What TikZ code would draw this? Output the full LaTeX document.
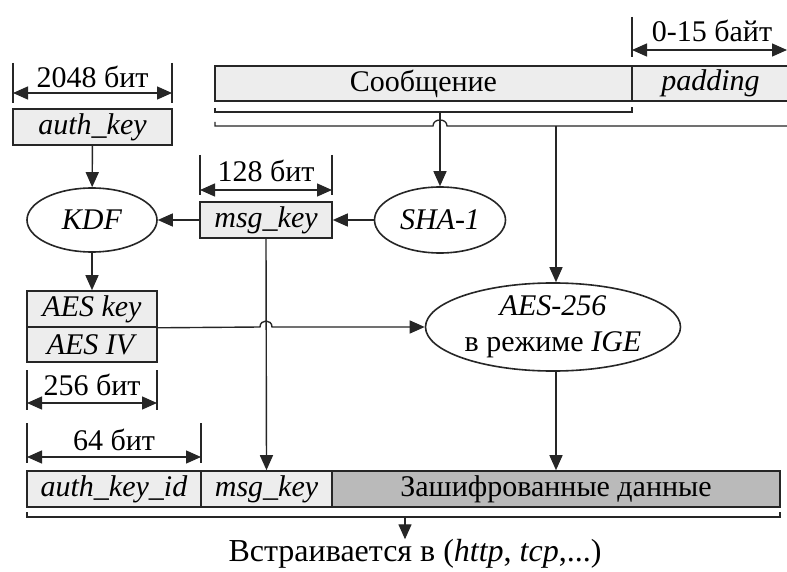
\documentclass[tikz,border=0pt]{standalone}
\usepackage{fontspec}
\setmainfont{Liberation Serif}
\usetikzlibrary{arrows.meta,shapes.geometric}

\begin{document}
\begin{tikzpicture}[x=1pt,y=-1pt,
  font=\fontsize{30}{36}\selectfont,
  ln/.style={draw=black!85, line width=1.6pt},
  field/.style={ln, fill=black!7, rectangle, inner sep=0pt},
  darkfield/.style={ln, fill=black!27, rectangle, inner sep=0pt},
  oval/.style={ln, ellipse, fill=white, inner sep=0pt, align=center},
  conn/.style={draw=black!85, line width=1.4pt, -{Triangle[length=15pt,width=13pt]}},
  dimen/.style={draw=black!85, line width=1.4pt,
    {Triangle[length=15pt,width=13pt]}-{Triangle[length=15pt,width=13pt]}},
  tick/.style={draw=black!85, line width=1.3pt},
  lbl/.style={inner sep=0pt}
]
\useasboundingbox[fill=white] (0,0) rectangle (787,572);

% message and padding
\node[field, minimum width=417pt, minimum height=35pt] (msg) at (423.5,83.5) {Сообщение};
\node[field, minimum width=157pt, minimum height=35pt] (pad) at (710.5,83.5) {\textit{padding}};

% padding size
\draw[tick] (632,17) -- (632,57);
\draw[dimen] (632,50) -- (787,50);
\node[lbl] (padlen) at (712,31) {0-15 байт};

% brackets under the message
\draw[tick] (215,108) -- (215,112) -- (632,112) -- (632,107);
\draw[tick] (215,122) -- (215,126) -- (433,126)
  .. controls (433,118) and (447,118) .. (447,126) -- (789,126);
\coordinate (b1) at (440,112);
\coordinate (b2) at (556,126);

% auth_key
\draw[tick] (13,63) -- (13,103);
\draw[tick] (172,63) -- (172,103);
\draw[dimen] (13,93) -- (172,93);
\node[lbl] (aklen) at (92.5,77) {2048 бит};
\node[field, minimum width=159pt, minimum height=36pt] (authkey) at (92.5,127) {\textit{auth\_key}};

% KDF, msg_key, SHA-1
\node[oval, minimum width=130pt, minimum height=64pt] (kdf) at (92,220) {\textit{KDF}};
\node[field, minimum width=132pt, minimum height=36pt] (msgkey) at (266,220) {\textit{msg\_key}};
\node[oval, minimum width=131pt, minimum height=66pt] (sha) at (440,220) {\textit{SHA-1}};

\draw[tick] (200,155) -- (200,195);
\draw[tick] (332,155) -- (332,195);
\draw[dimen] (200,190) -- (332,190);
\node[lbl] (mklen) at (266,171) {128 бит};

% AES key / IV
\node[field, minimum width=130pt, minimum height=36pt] (aeskey) at (92,309) {\textit{AES key}};
\node[field, minimum width=130pt, minimum height=35pt] (aesiv) at (92,344.5) {\textit{AES IV}};

\draw[tick] (27,370) -- (27,410);
\draw[tick] (157,370) -- (157,410);
\draw[dimen] (27,403) -- (157,403);
\node[lbl] (kylen) at (92,385) {256 бит};

% AES-256 in IGE mode
\node[oval, minimum width=255pt, minimum height=83pt] (aes) at (553,327)
  {\textit{AES-256}\\в режиме \textit{IGE}};

% resulting packet
\draw[tick] (27,423) -- (27,463);
\draw[tick] (201,423) -- (201,463);
\draw[dimen] (27,457) -- (201,457);
\node[lbl] (idlen) at (114,440) {64 бит};

\node[field, minimum width=174pt, minimum height=36pt] (akid) at (114,489) {\textit{auth\_key\_id}};
\node[field, minimum width=131pt, minimum height=36pt] (mk2) at (266.5,489) {\textit{msg\_key}};
\node[darkfield, minimum width=448pt, minimum height=36pt] (enc) at (556,489) {Зашифрованные данные};

\draw[tick] (27,512) -- (27,517) -- (780,517) -- (780,512);
\coordinate (b3) at (405,517);
\node[lbl, font=\fontsize{32}{38}\selectfont] (emb) at (415,554)
  {Встраивается в (\textit{http}, \textit{tcp},...)};

% connectors
\draw[conn] (authkey) -- (kdf);
\draw[conn] (kdf) -- (aeskey);
\draw[conn] (sha) -- (msgkey);
\draw[conn] (msgkey) -- (kdf);
\draw[conn] (b1) -- (sha.north);
\draw[conn] (b2) -- (b2 |- aes.north);
\draw[conn] (msgkey.south) -- (mk2.north);
\draw[conn] (aeskey.south east) -- (260,327)
  .. controls (260,319) and (272,319) .. (272,327) -- (aes.west);
\draw[conn] (aes.south -| b2) -- (b2 |- enc.north);
\draw[conn] (b3) -- (b3 |- emb.north);
\end{tikzpicture}
\end{document}
